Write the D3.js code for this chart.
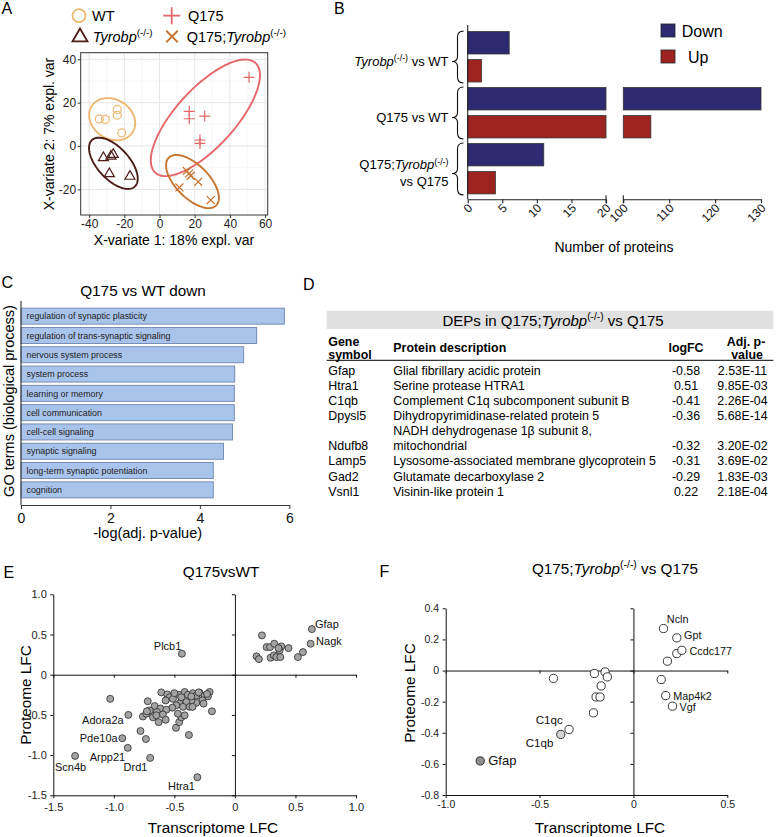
<!DOCTYPE html>
<html><head><meta charset="utf-8">
<script src="https://cdn.jsdelivr.net/npm/d3@7"></script>
<style>
body{margin:0;background:#fff}
svg{display:block}
text{font-family:"Liberation Sans",Arial,sans-serif;white-space:pre}
</style>
</head><body>
<svg id="fig" width="784" height="837"></svg>
<script>
// ================= DATA =================
// Panel A: sPLS-DA sample coordinates [x-variate 1, x-variate 2]
const pcaWT = [[-34.2,12.5],[-30.8,12.3],[-24,16.9],[-24,14.2],[-21.5,6.1]];
const pcaTyrobp = [[-31.9,-5.2],[-27.6,-4.5],[-26.3,-3.7],[-28.5,-12.6],[-16.8,-13.8]];
const pcaQ175 = [[16.9,16],[16.9,12.6],[25.7,13.8],[23,2.8],[23,1.2],[50.9,31.7]];
const pcaQ175Tyrobp = [[11.3,-19.1],[15.5,-11.5],[16.9,-12.6],[17.7,-13.7],[22,-16.5],[29.1,-24.9]];
const pcaGroups = ["WT","Tyrobp(-/-)","Q175","Q175;Tyrobp(-/-)"];
const pcaTicksX = [-40,-20,0,20,40,60];
const pcaTicksY = [-20,0,20,40];
const pcaMinorX = [-30,-10,10,30,50];
const pcaMinorY = [-30,-10,10,30];

// Panel B: number of DEPs
const bComparisons = ["Tyrobp(-/-) vs WT","Q175 vs WT","Q175;Tyrobp(-/-)\nvs Q175"];
const bDown = [6,130,11];
const bUp = [2,106,4];
const bSeries = ["Down","Up"];
const bTicksLow = [0,5,10,15,20];
const bTicksHigh = [100,110,120,130];

// Panel C: GO terms
const goTerms = ["regulation of synaptic plasticity","regulation of trans-synaptic signaling","nervous system process","system process","learning or memory","cell communication","cell-cell signaling","synaptic signaling","long-term synaptic potentiation","cognition"];
const goValues = [5.89,5.27,4.98,4.78,4.77,4.77,4.73,4.53,4.30,4.30];
const goTicks = [0,2,4,6];

// Panel D: table
const tGenes = ["Gfap","Htra1","C1qb","Dpysl5","Ndufb8","Lamp5","Gad2","Vsnl1"];
const tDesc = ["Glial fibrillary acidic protein","Serine protease HTRA1","Complement C1q subcomponent subunit B","Dihydropyrimidinase-related protein 5","NADH dehydrogenase 1\u03b2 subunit 8,\nmitochondrial","Lysosome-associated membrane glycoprotein 5","Glutamate decarboxylase 2","Visinin-like protein 1"];
const tLogFC = ["-0.58","0.51","-0.41","-0.36","-0.32","-0.31","-0.29","0.22"];
const tPval = ["2.53E-11","9.85E-03","2.26E-04","5.68E-14","3.20E-02","3.69E-02","1.83E-03","2.18E-04"];

// Panel E: Q175 vs WT [transcriptome LFC, proteome LFC]
const eLabeled = [["Gfap",0.636,0.567],["Nagk",0.625,0.385],["Plcb1",-0.438,0.261],["Adora2a",-0.88,-0.50],["Pde10a",-0.93,-0.79],["Arpp21",-0.885,-0.91],["Scn4b",-1.32,-1.01],["Drd1",-0.70,-1.035],["Htra1",-0.31,-1.275]];
const eUpOthers = [[0.223,0.489],[0.179,0.228],[0.198,0.194],[0.262,0.343],[0.29,0.343],[0.325,0.385],[0.383,0.352],[0.369,0.302],[0.443,0.331],[0.295,0.211],[0.322,0.24],[0.342,0.219],[0.375,0.219],[0.52,0.219],[0.562,0.281],[0.36,0.33]];
const eDownOthers = [[-1.03,-0.30],[-0.78,-0.70],[-0.735,-0.80],[-0.38,-0.75],[-0.19,-0.455],[-0.487,-0.66],[-0.46,-0.59],
[-0.72,-0.33],[-0.608,-0.22],[-0.558,-0.245],[-0.539,-0.28],[-0.572,-0.32],[-0.512,-0.30],[-0.462,-0.25],[-0.415,-0.215],[-0.443,-0.28],[-0.388,-0.25],[-0.347,-0.23],[-0.319,-0.26],[-0.292,-0.225],[-0.25,-0.26],[-0.209,-0.215],[-0.223,-0.27],[-0.269,-0.32],[-0.319,-0.35],[-0.36,-0.32],[-0.401,-0.34],[-0.457,-0.36],[-0.484,-0.38],[-0.429,-0.40],[-0.517,-0.41],[-0.374,-0.40],[-0.663,-0.39],[-0.616,-0.42],[-0.566,-0.435],[-0.704,-0.445],[-0.644,-0.465],[-0.76,-0.52],[-0.732,-0.485],[-0.677,-0.53],[-0.595,-0.495],[-0.443,-0.53],[-0.471,-0.485],[-0.63,-0.59],[-0.649,-0.505],[-0.572,-0.56],[-0.415,-0.505],[-0.727,-0.455],[-0.259,-0.36],[-0.35,-0.40],[-0.30,-0.22],[-0.23,-0.24],[-0.50,-0.23],[-0.36,-0.27]];
const eTicks = [-1.5,-1.0,-0.5,0,0.5,1.0];

// Panel F: Q175;Tyrobp vs Q175
const fLabeled = [["Ncln",0.16,0.27],["Gpt",0.231,0.21],["Ccdc177",0.258,0.13],["Map4k2",0.172,-0.161],["Vgf",0.208,-0.229],["C1qc",-0.343,-0.379],["C1qb",-0.387,-0.411],["Gfap",-0.816,-0.581]];
const fOthers = [[0.231,0.109],[0.181,0.06],[0.148,-0.058],[-0.426,-0.051],[-0.208,-0.019],[-0.151,-0.009],[-0.139,-0.041],[-0.172,-0.099],[-0.199,-0.17],[-0.178,-0.17],[-0.213,-0.272]];
const fTicksX = [-1.0,-0.5,0,0.5];
const fTicksY = [-0.8,-0.6,-0.4,-0.2,0,0.2,0.4];

// ================= HELPERS =================
const svg = d3.select('#fig');
svg.append('rect').attr('width',784).attr('height',837).attr('fill','#fff');

function parseRich(s){
  const parts=[]; const re=/Tyrobp\(-\/-\)/g; let last=0, m;
  while((m=re.exec(s))){ if(m.index>last) parts.push({t:s.slice(last,m.index)}); parts.push({t:'Tyrobp',i:true}); parts.push({t:'(-/-)',sup:true}); last=m.index+m[0].length; }
  if(last<s.length) parts.push({t:s.slice(last)});
  return parts;
}
function rich(g,x,y,str,fs,opts={}){
  const t=g.append('text').attr('x',x).attr('y',y).attr('font-size',fs).attr('fill',opts.fill||'#000');
  if(opts.anchor) t.attr('text-anchor',opts.anchor);
  if(opts.weight) t.attr('font-weight',opts.weight);
  let raised=false;
  parseRich(str).forEach(p=>{
    const ts=t.append('tspan').text(p.t);
    if(p.i) ts.attr('font-style','italic');
    if(p.sup){ ts.attr('font-size',fs*0.68).attr('dy',-fs*0.38); raised=true; }
    else if(raised){ ts.attr('dy',fs*0.38); raised=false; }
  });
  return t;
}
function panelLabel(t,x,y){ svg.append('text').attr('x',x).attr('y',y).attr('font-size',16).text(t); }
function fmt1(d){ return d===0?'0':d.toFixed(1); }

// ================= PANEL A =================
panelLabel('A',1.5,13.5);
const gA = svg.append('g');
const xA = d3.scaleLinear().domain([-44.8,61.5]).range([80.7,267.7]);
const yA = d3.scaleLinear().domain([-31.8,43.05]).range([215,52.7]);
const colA = {"WT":"#EDB870","Tyrobp(-/-)":"#4C1D17","Q175":"#E5666B","Q175;Tyrobp(-/-)":"#C6742F"};
const shapeA = {"WT":"circle","Tyrobp(-/-)":"triangle","Q175":"plus","Q175;Tyrobp(-/-)":"cross"};
const dataA = {"WT":pcaWT,"Tyrobp(-/-)":pcaTyrobp,"Q175":pcaQ175,"Q175;Tyrobp(-/-)":pcaQ175Tyrobp};
// grid
gA.selectAll('.gminx').data(pcaMinorX).join('line').attr('x1',d=>xA(d)).attr('x2',d=>xA(d)).attr('y1',52.7).attr('y2',215).attr('stroke','#F2F2F2').attr('stroke-width',0.6);
gA.selectAll('.gminy').data(pcaMinorY).join('line').attr('y1',d=>yA(d)).attr('y2',d=>yA(d)).attr('x1',80.7).attr('x2',267.7).attr('stroke','#F2F2F2').attr('stroke-width',0.6);
gA.selectAll('.gmajx').data(pcaTicksX).join('line').attr('x1',d=>xA(d)).attr('x2',d=>xA(d)).attr('y1',52.7).attr('y2',215).attr('stroke','#E6E6E6').attr('stroke-width',1);
gA.selectAll('.gmajy').data(pcaTicksY).join('line').attr('y1',d=>yA(d)).attr('y2',d=>yA(d)).attr('x1',80.7).attr('x2',267.7).attr('stroke','#E6E6E6').attr('stroke-width',1);

function sym(g,type,cx,cy,s,color,sw){
  if(type==='circle') g.append('circle').attr('cx',cx).attr('cy',cy).attr('r',s/2).attr('fill','none').attr('stroke',color).attr('stroke-width',sw);
  else if(type==='triangle'){ const h=s*0.866; g.append('path').attr('d',`M${cx},${cy-h*0.62}L${cx-s/2},${cy+h*0.38}L${cx+s/2},${cy+h*0.38}Z`).attr('fill','none').attr('stroke',color).attr('stroke-width',sw).attr('stroke-linejoin','miter'); }
  else if(type==='plus') g.append('path').attr('d',`M${cx-s/2},${cy}H${cx+s/2}M${cx},${cy-s/2}V${cy+s/2}`).attr('stroke',color).attr('stroke-width',sw);
  else { const a=s*0.36; g.append('path').attr('d',`M${cx-a},${cy-a}L${cx+a},${cy+a}M${cx-a},${cy+a}L${cx+a},${cy-a}`).attr('stroke',color).attr('stroke-width',sw); }
}
function ellipsePts(pts){
  const n=pts.length, mx=d3.mean(pts,d=>d[0]), my=d3.mean(pts,d=>d[1]);
  const sx=d3.deviation(pts,d=>d[0]), sy=d3.deviation(pts,d=>d[1]);
  const r=d3.sum(pts,d=>(d[0]-mx)*(d[1]-my))/(n-1)/(sx*sy);
  const t=Math.sqrt(5.991464547), dd=Math.acos(r);
  return d3.range(0,121).map(k=>{const a=2*Math.PI*k/120; return [mx+t*sx*Math.cos(a+dd/2), my+t*sy*Math.cos(a-dd/2)];});
}
const lineA = d3.line().x(d=>xA(d[0])).y(d=>yA(d[1])).curve(d3.curveLinearClosed);
svg.append('clipPath').attr('id','clipA').append('rect').attr('x',80.7).attr('y',52.7).attr('width',187).attr('height',162.3);
const gAp = gA.append('g').attr('clip-path','url(#clipA)');
pcaGroups.forEach(gr=>{
  gAp.append('path').attr('d',lineA(ellipsePts(dataA[gr]))).attr('fill','none').attr('stroke',colA[gr]).attr('stroke-width',1.9);
});
const szA = {"circle":8,"triangle":10,"plus":11,"cross":11};
pcaGroups.forEach(gr=>{
  dataA[gr].forEach(p=>sym(gAp,shapeA[gr],xA(p[0]),yA(p[1]),szA[shapeA[gr]],colA[gr],1.2));
});
gA.append('rect').attr('x',80.7).attr('y',52.7).attr('width',187).attr('height',162.3).attr('fill','none').attr('stroke','#333').attr('stroke-width',1);
const axA1 = gA.append('g').attr('transform','translate(0,215)').call(d3.axisBottom(xA).tickValues(pcaTicksX).tickSize(3).tickPadding(1.5).tickFormat(d=>String(d)));
const axA2 = gA.append('g').attr('transform','translate(80.7,0)').call(d3.axisLeft(yA).tickValues(pcaTicksY).tickSize(3).tickPadding(1.5).tickFormat(d=>String(d)));
[axA1,axA2].forEach(a=>{a.select('.domain').remove(); a.selectAll('text').attr('font-size',12).attr('fill','#222').attr('font-family','"Liberation Sans",Arial,sans-serif'); a.selectAll('line').attr('stroke','#333');});
gA.append('text').attr('x',174).attr('y',245).attr('text-anchor','middle').attr('font-size',14).text('X-variate 1: 18% expl. var');
gA.append('text').attr('transform','translate(54,134) rotate(-90)').attr('text-anchor','middle').attr('font-size',14).text('X-variate 2: 7% expl. var');
// legend
const legA = [[79,15.7,92,20.7],[80,36.5,92.7,41.5],[171.7,15.7,188,20.7],[172,36.5,186.7,41.5]];
const legOrder = ["WT","Tyrobp(-/-)","Q175","Q175;Tyrobp(-/-)"];
const legSz = {"circle":13,"triangle":15,"plus":17,"cross":16};
legOrder.forEach((gr,i)=>{
  const L=legA[i];
  sym(gA,shapeA[gr],L[0],L[1],legSz[shapeA[gr]],colA[gr],1.8);
  rich(gA,L[2],L[3],gr,14.5);
});

// ================= PANEL B =================
panelLabel('B',334,13.5);
const gB = svg.append('g');
const xB1 = d3.scaleLinear().domain([0,20]).range([467.7,606]);
const xB2 = d3.scaleLinear().domain([100,130]).range([623.3,761]);
const yB = d3.scaleBand().domain(d3.range(6)).range([26,199.5]).paddingInner(0.2).paddingOuter(0.2);
const colB = {"Down":"#2D2A72","Up":"#9C231F"};
function segs(v){ return v<=20 ? [[xB1(0),xB1(v)]] : [[xB1(0),xB1(20)],[xB2(100),xB2(v)]]; }
bComparisons.forEach((c,i)=>{
  [[bDown[i],"Down",2*i],[bUp[i],"Up",2*i+1]].forEach(([v,s,k])=>{
    segs(v).forEach(sg=>{
      gB.append('rect').attr('x',sg[0]).attr('y',yB(k)).attr('width',sg[1]-sg[0]).attr('height',yB.bandwidth()).attr('fill',colB[s]).attr('stroke','#333').attr('stroke-width',0.8);
    });
  });
  // brace + label
  const y0=yB(2*i)-0.5, y1=yB(2*i+1)+yB.bandwidth()+1, ym=(y0+y1)/2+4.5;
  const xe=463.5, xb=457.5, xt=452;
  gB.append('path').attr('d',`M${xe},${y0}Q${xb},${y0} ${xb},${y0+6}L${xb},${ym-5}Q${xb},${ym} ${xt},${ym}Q${xb},${ym} ${xb},${ym+5}L${xb},${y1-6}Q${xb},${y1} ${xe},${y1}`).attr('fill','none').attr('stroke','#111').attr('stroke-width',1.1);
  const lines=c.split('\n');
  lines.forEach((ln,j)=>{ rich(gB,448.5,ym+4.5+(j-(lines.length-1)/2)*17,ln,13,{anchor:'end'}); });
});
gB.append('line').attr('x1',467.7).attr('x2',467.7).attr('y1',25).attr('y2',199.3).attr('stroke','#222').attr('stroke-width',1.1);
[[xB1,bTicksLow],[xB2,bTicksHigh]].forEach(([sc,tv])=>{
  const a=gB.append('g').attr('transform','translate(0,199.3)').call(d3.axisBottom(sc).tickValues(tv).tickSize(4).tickSizeOuter(0).tickFormat(d=>String(d)));
  a.select('.domain').attr('stroke','#222').attr('stroke-width',1.1);
  a.selectAll('line').attr('stroke','#222').attr('stroke-width',1.1);
  a.selectAll('text').attr('x',null).attr('y',null).attr('dy','0.35em').attr('text-anchor','end').attr('transform','translate(2,6.5) rotate(-45)').attr('font-size',12).attr('fill','#111').attr('font-family','"Liberation Sans",Arial,sans-serif');
});
// break-end ticks
[xB1(20),xB2(100)].forEach(x=>gB.append('line').attr('x1',x).attr('x2',x).attr('y1',195.3).attr('y2',203.3).attr('stroke','#222').attr('stroke-width',1.1));
gB.append('text').attr('x',614).attr('y',252).attr('text-anchor','middle').attr('font-size',14).text('Number of proteins');
bSeries.forEach((s,i)=>{
  gB.append('rect').attr('x',661).attr('y',24+i*26).attr('width',14).attr('height',13).attr('fill',colB[s]).attr('stroke','#222').attr('stroke-width',0.8);
  gB.append('text').attr('x',s==='Up'?688:681.7).attr('y',36.7+i*26).attr('font-size',16).text(s);
});

// ================= PANEL C =================
panelLabel('C',1.5,288);
const gC = svg.append('g');
const xC = d3.scaleLinear().domain([0,6]).range([21,289.3]);
const yC = d3.scaleBand().domain(goTerms).range([301,505]).paddingInner(0.17).paddingOuter(0.37);
gC.append('text').attr('x',143).attr('y',295.5).attr('text-anchor','middle').attr('font-size',15.3).text('Q175 vs WT down');
gC.selectAll('rect.bar').data(goTerms).join('rect').attr('x',xC(0)).attr('y',d=>yC(d)).attr('width',(d,i)=>xC(goValues[i])-xC(0)).attr('height',yC.bandwidth()).attr('fill','#A9C4EB').attr('stroke','#6E86AE').attr('stroke-width',0.9);
gC.selectAll('text.lab').data(goTerms).join('text').attr('x',26.5).attr('y',d=>yC(d)+yC.bandwidth()/2+3.2).attr('font-size',8.9).attr('fill','#222').text(d=>d);
gC.append('line').attr('x1',21).attr('x2',21).attr('y1',301).attr('y2',505).attr('stroke','#333').attr('stroke-width',1.1);
const axC=gC.append('g').attr('transform','translate(0,505)').call(d3.axisBottom(xC).tickValues(goTicks).tickSize(4).tickSizeOuter(0).tickPadding(4).tickFormat(d=>String(d)));
axC.select('.domain').attr('stroke','#333').attr('stroke-width',1.1);
axC.selectAll('line').attr('stroke','#333');
axC.selectAll('text').attr('font-size',14).attr('fill','#111').attr('font-family','"Liberation Sans",Arial,sans-serif');
gC.append('text').attr('x',147.7).attr('y',538).attr('text-anchor','middle').attr('font-size',14.5).text('-log(adj. p-value)');
gC.append('text').attr('transform','translate(13.5,401) rotate(-90)').attr('text-anchor','middle').attr('font-size',14.5).text('GO terms (biological process)');

// ================= PANEL D =================
panelLabel('D',303,290);
const gD = svg.append('g');
gD.append('rect').attr('x',326.7).attr('y',310.7).attr('width',446.6).attr('height',18.3).attr('fill','#E1E1E1');
rich(gD,553,325.5,'DEPs in Q175;Tyrobp(-/-) vs Q175',15,{anchor:'middle'});
const colX = {gene:328.3, desc:393.3, fc:686, p:742.5};
const hfs=12.4;
gD.append('text').attr('x',colX.gene).attr('y',345.5).attr('font-size',hfs).attr('font-weight','bold').text('Gene');
gD.append('text').attr('x',colX.gene).attr('y',358.5).attr('font-size',hfs).attr('font-weight','bold').text('symbol');
gD.append('text').attr('x',colX.desc).attr('y',351.5).attr('font-size',hfs).attr('font-weight','bold').text('Protein description');
gD.append('text').attr('x',colX.fc).attr('y',351.5).attr('font-size',hfs).attr('font-weight','bold').attr('text-anchor','middle').text('logFC');
gD.append('text').attr('x',746).attr('y',345.5).attr('font-size',hfs).attr('font-weight','bold').attr('text-anchor','middle').text('Adj. p-');
gD.append('text').attr('x',747).attr('y',358.5).attr('font-size',hfs).attr('font-weight','bold').attr('text-anchor','middle').text('value');
gD.append('line').attr('x1',326.7).attr('x2',773.3).attr('y1',360.3).attr('y2',360.3).attr('stroke','#000').attr('stroke-width',1);
let lineIdx=0; const base0=374.5, pitch=15.15;
tGenes.forEach((g,i)=>{
  const dl=tDesc[i].split('\n');
  dl.forEach((l,j)=>gD.append('text').attr('x',colX.desc).attr('y',base0+(lineIdx+j)*pitch).attr('font-size',12.4).text(l));
  const yb=base0+(lineIdx+dl.length-1)*pitch;
  gD.append('text').attr('x',colX.gene).attr('y',yb).attr('font-size',12.4).text(g);
  gD.append('text').attr('x',colX.fc).attr('y',yb).attr('font-size',12.4).attr('text-anchor','middle').text(tLogFC[i]);
  gD.append('text').attr('x',colX.p).attr('y',yb).attr('font-size',12.4).attr('text-anchor','middle').text(tPval[i]);
  lineIdx+=dl.length;
});

// ================= SCATTER HELPER =================
function quadAxes(g,xs,ys,xt,yt,opt){
  const [x0,x1]=xs.range(), [y0,y1]=ys.range();
  const style=a=>{a.select('.domain').attr('stroke','#111').attr('stroke-width',1); a.selectAll('line').attr('stroke','#111'); a.selectAll('text').attr('font-size',opt.tfs).attr('fill','#222').attr('font-family','"Liberation Sans",Arial,sans-serif');};
  const aL=g.append('g').attr('transform',`translate(${x0},0)`).call(d3.axisLeft(ys).tickValues(yt).tickSize(3).tickSizeOuter(0).tickPadding(opt.padY).tickFormat(fmt1)); style(aL);
  const aB=g.append('g').attr('transform',`translate(0,${y0})`).call(d3.axisBottom(xs).tickValues(xt).tickSize(3).tickSizeOuter(0).tickPadding(opt.padX).tickFormat(fmt1)); style(aB);
  const aZ1=g.append('g').attr('transform',`translate(${xs(0)},0)`).call(d3.axisLeft(ys).tickValues(yt).tickSize(3).tickSizeOuter(0).tickFormat('')); style(aZ1);
  const aZ2=g.append('g').attr('transform',`translate(0,${ys(0)})`).call(d3.axisBottom(xs).tickValues(xt).tickSize(3).tickSizeOuter(0).tickFormat('')); style(aZ2);
}

// ================= PANEL E =================
panelLabel('E',3.5,578.3);
const gE = svg.append('g');
const xE = d3.scaleLinear().domain([-1.5,1.0]).range([53.3,356]);
const yE = d3.scaleLinear().domain([-1.5,1.0]).range([795.3,594.3]);
gE.append('text').attr('x',221).attr('y',577).attr('text-anchor','middle').attr('font-size',15.3).text('Q175vsWT');
quadAxes(gE,xE,yE,eTicks,eTicks,{tfs:11,padY:3.5,padX:5});
const eAll = eDownOthers.concat(eUpOthers).concat(eLabeled.map(d=>[d[1],d[2]]));
gE.selectAll('circle.pt').data(eAll).join('circle').attr('cx',d=>xE(d[0])).attr('cy',d=>yE(d[1])).attr('r',3.5).attr('fill','#A3A3A3').attr('stroke','#2b2b2b').attr('stroke-width',0.8);
const eLabOff = {Gfap:['start',3,-5.5],Nagk:['start',5.5,-2.3],Plcb1:['end',-0.5,-7.3],Adora2a:['end',-4.7,5],Pde10a:['end',-4.6,-0.6],Arpp21:['end',-2.6,9],Scn4b:['middle',-4.5,11],Drd1:['end',-2.7,9.6],Htra1:['end',-2.4,8.7]};
eLabeled.forEach(d=>{const o=eLabOff[d[0]]; gE.append('text').attr('x',xE(d[1])+o[1]).attr('y',yE(d[2])+o[2]).attr('dy','0.36em').attr('text-anchor',o[0]).attr('font-size',11).attr('fill','#111').text(d[0]);});
gE.append('text').attr('x',213).attr('y',832.5).attr('text-anchor','middle').attr('font-size',15.3).text('Transcriptome LFC');
gE.append('text').attr('transform','translate(30.5,695) rotate(-90)').attr('text-anchor','middle').attr('font-size',15.3).text('Proteome LFC');

// ================= PANEL F =================
panelLabel('F',379.5,577.3);
const gF = svg.append('g');
const xF = d3.scaleLinear().domain([-1.0,0.5]).range([445.7,727.3]);
const yF = d3.scaleLinear().domain([-0.8,0.4]).range([795,608.3]);
rich(gF,615,573.5,'Q175;Tyrobp(-/-) vs Q175',15.3,{anchor:'middle'});
quadAxes(gF,xF,yF,fTicksX,fTicksY,{tfs:10.5,padY:3.7,padX:2.5});
const fFill = {Gfap:'#8F8F8F',C1qb:'#D4D4D4'};
const fAll = fOthers.map(d=>[d[0],d[1],null]).concat(fLabeled.map(d=>[d[1],d[2],d[0]]));
gF.selectAll('circle.pt').data(fAll).join('circle').attr('cx',d=>xF(d[0])).attr('cy',d=>yF(d[1])).attr('r',4.1).attr('fill',d=>fFill[d[2]]||'#fff').attr('stroke','#222').attr('stroke-width',0.9);
const fLabOff = {Ncln:['start',3.4,-9,10.8],Gpt:['start',7.3,-2.8,10.8],Ccdc177:['start',7.6,0.6,10.8],Map4k2:['start',7.6,0.4,10.8],Vgf:['start',7,0.7,10.8],C1qc:['end',-6.3,-10,11.6],C1qb:['end',-7.4,8,11.6],Gfap:['start',8,-0.7,13]};
fLabeled.forEach(d=>{const o=fLabOff[d[0]]; gF.append('text').attr('x',xF(d[1])+o[1]).attr('y',yF(d[2])+o[2]).attr('dy','0.36em').attr('text-anchor',o[0]).attr('font-size',o[3]).attr('fill','#111').text(d[0]);});
gF.append('text').attr('x',600).attr('y',832.5).attr('text-anchor','middle').attr('font-size',15.3).text('Transcriptome LFC');
gF.append('text').attr('transform','translate(414.5,693) rotate(-90)').attr('text-anchor','middle').attr('font-size',15.3).text('Proteome LFC');
</script>
</body></html>
